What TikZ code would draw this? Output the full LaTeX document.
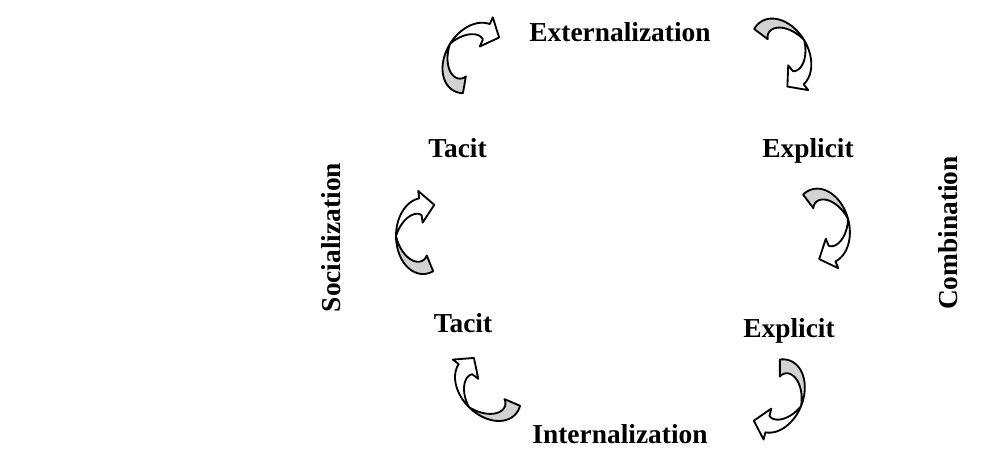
\documentclass[tikz,border=0pt]{standalone}
\usepackage{fontspec}
\setmainfont{Liberation Serif}
\definecolor{ribbongray}{RGB}{210,210,210}
\tikzset{
  lab/.style={font=\fontsize{15.6}{18}\selectfont\bfseries, anchor=base, inner sep=0pt},
  ribbonback/.style={fill=ribbongray, draw=black, line width=1.05pt, line join=round},
  ribbonfront/.style={fill=white, draw=black, line width=1.05pt, line join=round},
  kribbon/.pic={
    \filldraw[ribbonback]
      plot[domain=68:180,samples=40] ({27*cos(\x)},{38*sin(\x)})
      -- plot[domain=180:68,samples=40] ({(27-17*(180-\x)/112)*cos(\x)},{(38-17*(180-\x)/112)*sin(\x)})
      -- cycle;
    \filldraw[ribbonfront]
      plot[domain=180:262,samples=40] ({27*cos(\x)},{38*sin(\x)})
      -- (-4.8,-45.0) -- (11.3,-31.2) -- (-0.35,-13.4)
      -- plot[domain=262:180,samples=40] ({(27-17*(\x-180)/82)*cos(\x)},{(38-17*(\x-180)/82)*sin(\x)})
      -- cycle;
  }
}
\begin{document}
\begin{tikzpicture}[x=0.02cm,y=-0.02cm]
\useasboundingbox (0,0) rectangle (1001,450);
% labels
\node[lab] (ext) at (620,41) {Externalization};
\node[lab] (tacitA) at (457.5,157) {Tacit};
\node[lab] (explA) at (808,157) {Explicit};
\node[lab] (tacitB) at (463,332) {Tacit};
\node[lab] (explB) at (789,337) {Explicit};
\node[lab, rotate=90] (soc) at (340,237.5) {Socialization};
\node[lab, rotate=90] (comb) at (957,233) {Combination};
\node[lab] (int) at (620,443) {Internalization};
% ribbon arrows
\pic[rotate=-32] (arrA) at (473,58) {kribbon};
\pic[rotate=-149] (arrB) at (781,54) {kribbon};
\pic (arrC) at (423,236) {kribbon};
\pic[rotate=-165] (arrD) at (822,226) {kribbon};
\pic[rotate=45] (arrE) at (488,388) {kribbon};
\pic[rotate=-202] (arrF) at (776,396) {kribbon};
\end{tikzpicture}
\end{document}
